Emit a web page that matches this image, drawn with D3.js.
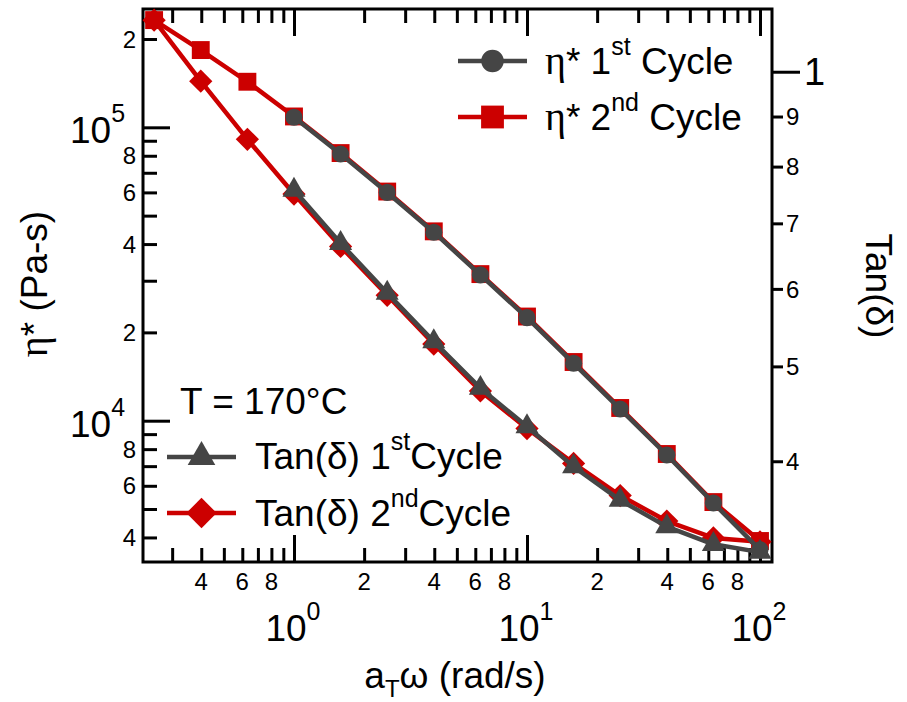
<!DOCTYPE html>
<html>
<head>
<meta charset="utf-8">
<script src="https://cdn.jsdelivr.net/npm/d3@7"></script>
<style>
  body { margin: 0; background: #fff; }
  svg { display: block; }
  text { font-family: "Liberation Sans", Arial, sans-serif; fill: #000; }
</style>
</head>
<body>
<svg id="chart" width="907" height="702"></svg>
<script>
// Angular frequency a_T·ω (rad/s), five points per decade
const freqCycle2 = [0.251, 0.398, 0.631, 1, 1.585, 2.512, 3.981, 6.31, 10, 15.85, 25.12, 39.81, 63.1, 100];
const freqCycle1 = [1, 1.585, 2.512, 3.981, 6.31, 10, 15.85, 25.12, 39.81, 63.1, 100];

// Complex viscosity η* (Pa·s)
const etaCycle1 = [108200, 81100, 60000, 43900, 31400, 22450, 15690, 10960, 7640, 5240, 3630];
const etaCycle2 = [232000, 183400, 143000, 108900, 81700, 60400, 44200, 31600, 22650, 15850, 11050, 7700, 5280, 3890];

// Loss tangent tan(δ)
const tanCycle1 = [0.757, 0.668, 0.594, 0.530, 0.475, 0.434, 0.395, 0.365, 0.343, 0.329, 0.323];
const tanCycle2 = [1.129, 0.978, 0.853, 0.750, 0.663, 0.591, 0.527, 0.472, 0.432, 0.398, 0.369, 0.3475, 0.334, 0.331];

// Tick values and labels
const xMajorTicks = [1, 10, 100];
const xMajorExp = ["0", "1", "2"];
const xMinorTicks = [0.3, 0.4, 0.5, 0.6, 0.7, 0.8, 0.9, 2, 3, 4, 5, 6, 7, 8, 9, 20, 30, 40, 50, 60, 70, 80, 90];
const xMinorLabelled = [0.4, 0.6, 0.8, 2, 4, 6, 8, 20, 40, 60, 80];
const xMinorLabels = ["4", "6", "8", "2", "4", "6", "8", "2", "4", "6", "8"];

const yMajorTicks = [1e4, 1e5];
const yMajorExp = ["4", "5"];
const yMinorTicks = [4000, 5000, 6000, 7000, 8000, 9000, 20000, 30000, 40000, 50000, 60000, 70000, 80000, 90000, 200000];
const yMinorLabelled = [4000, 6000, 8000, 20000, 40000, 60000, 80000, 200000];
const yMinorLabels = ["4", "6", "8", "2", "4", "6", "8", "2"];

const rMajorTicks = [1];
const rMajorLabels = ["1"];
const rMinorTicks = [0.4, 0.5, 0.6, 0.7, 0.8, 0.9];
const rMinorLabels = ["4", "5", "6", "7", "8", "9"];

const GRAY = "#454545";
const RED = "#cc0000";
const BIG = 37;      // titles and legend text
const SUP = 25;      // superscripts
const SMALL = 24;    // minor tick labels

const svg = d3.select("#chart");
const plot = { left: 143, right: 772, top: 9, bottom: 562 };

const x = d3.scaleLog().domain([0.2249, 112.6]).range([plot.left, plot.right]);
const yL = d3.scaleLog().domain([3299, 253100]).range([plot.bottom, plot.top]);
const yR = d3.scaleLog().domain([0.3156, 1.159]).range([plot.bottom, plot.top]);

// ---- axes (ticks only; labels are set separately) ----
const axisG = svg.append("g");
function drawAxis(axis, transform) {
  const g = axisG.append("g").attr("transform", transform).call(axis);
  g.select(".domain").remove();
  g.selectAll("line").attr("stroke", "#000").attr("stroke-width", 3);
  return g;
}
// bottom & top: inward ticks
drawAxis(d3.axisBottom(x).tickValues(xMinorTicks).tickSize(-14).tickFormat(""), `translate(0,${plot.bottom})`);
drawAxis(d3.axisBottom(x).tickValues(xMajorTicks).tickSize(-27).tickFormat(""), `translate(0,${plot.bottom})`);
drawAxis(d3.axisTop(x).tickValues(xMinorTicks).tickSize(-14).tickFormat(""), `translate(0,${plot.top})`);
drawAxis(d3.axisTop(x).tickValues(xMajorTicks).tickSize(-27).tickFormat(""), `translate(0,${plot.top})`);
// left: inward ticks
drawAxis(d3.axisLeft(yL).tickValues(yMinorTicks).tickSize(-14).tickFormat(""), `translate(${plot.left},0)`);
drawAxis(d3.axisLeft(yL).tickValues(yMajorTicks).tickSize(-27).tickFormat(""), `translate(${plot.left},0)`);
// right: outward ticks
drawAxis(d3.axisRight(yR).tickValues(rMinorTicks).tickSize(11).tickFormat(""), `translate(${plot.right},0)`);
drawAxis(d3.axisRight(yR).tickValues(rMajorTicks).tickSize(28).tickFormat(""), `translate(${plot.right},0)`);

// frame
svg.append("rect")
  .attr("x", plot.left).attr("y", plot.top)
  .attr("width", plot.right - plot.left).attr("height", plot.bottom - plot.top)
  .attr("fill", "none").attr("stroke", "#000").attr("stroke-width", 3);

// ---- tick labels ----
const lab = svg.append("g");
xMinorLabelled.forEach((v, i) => {
  lab.append("text").attr("x", x(v)).attr("y", plot.bottom + 28)
    .attr("text-anchor", "middle").attr("font-size", SMALL).text(xMinorLabels[i]);
});
xMajorTicks.forEach((v, i) => {
  const t = lab.append("text").attr("x", x(v) - 1).attr("y", 641)
    .attr("text-anchor", "middle").attr("font-size", BIG);
  t.append("tspan").text("10");
  t.append("tspan").attr("font-size", SUP).attr("dy", -21).text(xMajorExp[i]);
});
yMinorLabelled.forEach((v, i) => {
  lab.append("text").attr("x", 136).attr("y", yL(v)).attr("dy", "0.36em")
    .attr("text-anchor", "end").attr("font-size", SMALL).text(yMinorLabels[i]);
});
yMajorTicks.forEach((v, i) => {
  const t = lab.append("text").attr("x", 70).attr("y", yL(v) + 16)
    .attr("font-size", BIG);
  t.append("tspan").text("10");
  t.append("tspan").attr("font-size", SUP).attr("dy", -21).text(yMajorExp[i]);
});
rMinorTicks.forEach((v, i) => {
  lab.append("text").attr("x", 786).attr("y", yR(v)).attr("dy", "0.36em")
    .attr("font-size", SMALL).text(rMinorLabels[i]);
});
rMajorTicks.forEach((v, i) => {
  lab.append("text").attr("x", 804).attr("y", yR(v)).attr("dy", "0.36em")
    .attr("font-size", BIG + 1).text(rMajorLabels[i]);
});

// ---- axis titles ----
const yTitle = svg.append("text").attr("transform", "translate(47,284) rotate(-90)")
  .attr("text-anchor", "middle").attr("font-size", BIG);
yTitle.append("tspan").attr("font-family", "'Liberation Serif', serif").attr("font-size", BIG + 3).text("η");
yTitle.append("tspan").text("* (Pa-s)");

svg.append("text").attr("transform", "translate(866,286) rotate(90)")
  .attr("text-anchor", "middle").attr("font-size", BIG).text("Tan(δ)");

const xTitle = svg.append("text").attr("x", 455).attr("y", 688)
  .attr("text-anchor", "middle").attr("font-size", BIG);
xTitle.append("tspan").text("a");
xTitle.append("tspan").attr("font-size", 24).attr("dy", 9).text("T");
xTitle.append("tspan").attr("dy", -9).text("ω (rad/s)");

// ---- series ----
const circle = d3.symbol().type(d3.symbolCircle);
const square = d3.symbol().type(d3.symbolSquare);
const triangle = d3.symbol().type(d3.symbolTriangle);

function marker(g, kind, size, color) {
  if (kind === "circle") return g.append("path").attr("d", circle.size(size)()).attr("fill", color);
  if (kind === "square") return g.append("path").attr("d", square.size(size)()).attr("fill", color);
  if (kind === "triangle") return g.append("path").attr("d", triangle.size(size)()).attr("fill", color);
  // diamond: a square turned by 45°
  return g.append("path").attr("d", square.size(size)()).attr("fill", color).attr("transform", "rotate(45)");
}

function series(freqs, vals, yScale, color, kind, size) {
  const pts = freqs.map((f, i) => [x(f), yScale(vals[i])]);
  const g = svg.append("g");
  g.append("path").attr("d", d3.line()(pts))
    .attr("fill", "none").attr("stroke", color).attr("stroke-width", 4.5)
    .attr("stroke-linejoin", "round");
  pts.forEach(p => {
    const m = g.append("g").attr("transform", `translate(${p[0]},${p[1]})`);
    marker(m, kind, size, color);
  });
}

series(freqCycle2, tanCycle2, yR, RED, "diamond", 270);
series(freqCycle2, etaCycle2, yL, RED, "square", 320);
series(freqCycle1, tanCycle1, yR, GRAY, "triangle", 230);
series(freqCycle1, etaCycle1, yL, GRAY, "circle", 230);

// ---- legends ----
function legendItem(lx, ly, color, kind, size) {
  const g = svg.append("g");
  g.append("line").attr("x1", lx).attr("x2", lx + 69).attr("y1", ly).attr("y2", ly)
    .attr("stroke", color).attr("stroke-width", 4.5);
  const m = g.append("g").attr("transform", `translate(${lx + 34.5},${ly})`);
  marker(m, kind, size, color);
}

legendItem(458, 61, GRAY, "circle", 400);
legendItem(458, 117, RED, "square", 520);
legendItem(167, 457, GRAY, "triangle", 330);
legendItem(167, 513, RED, "diamond", 460);

function legendText(tx, ty, pre, sup, post, greek) {
  const t = svg.append("text").attr("x", tx).attr("y", ty).attr("font-size", BIG);
  if (greek) {
    t.append("tspan").attr("font-family", "'Liberation Serif', serif").attr("font-size", BIG + 3).text(greek);
  }
  t.append("tspan").text(pre);
  t.append("tspan").attr("font-size", SUP).attr("dy", -19).text(sup);
  t.append("tspan").attr("dy", 19).text(post);
}
legendText(545, 74, "* 1", "st", " Cycle", "η");
legendText(545, 130, "* 2", "nd", " Cycle", "η");
svg.append("text").attr("x", 180).attr("y", 414).attr("font-size", BIG).text("T = 170°C");
legendText(255, 469, "Tan(δ) 1", "st", "Cycle", null);
legendText(255, 526, "Tan(δ) 2", "nd", "Cycle", null);
</script>
</body>
</html>
